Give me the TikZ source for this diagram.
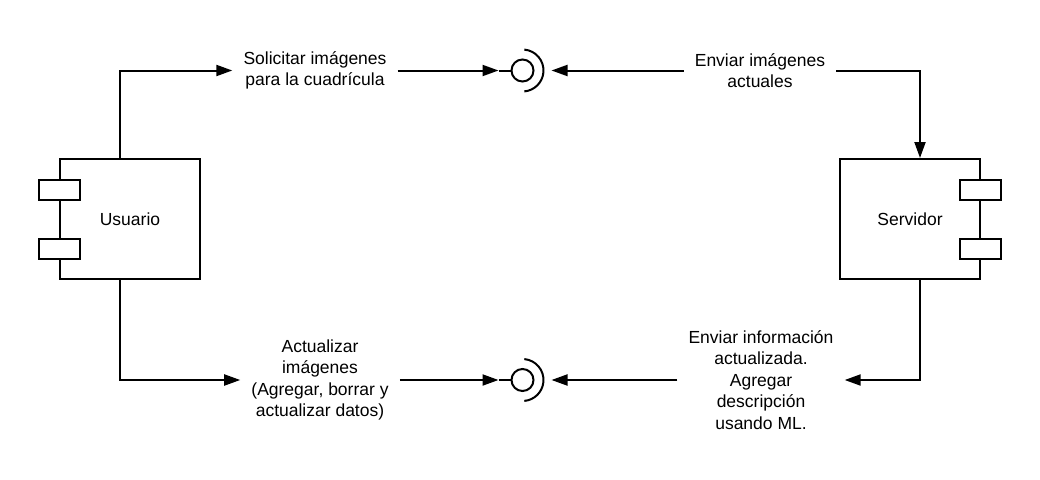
\documentclass[tikz,border=0pt]{standalone}
\usepackage{fontspec}
\setmainfont{Liberation Sans}
\usetikzlibrary{positioning,arrows.meta}
\tikzset{
  comp/.style={draw,line width=2pt,minimum width=140pt,minimum height=120pt,inner sep=0pt,font=\fontsize{17.5}{21.5}\selectfont},
  port/.style={draw,fill=white,line width=2pt,minimum width=41pt,minimum height=20pt,inner sep=0pt},
  ball/.style={circle,draw,line width=2pt,minimum size=22pt,inner sep=0pt},
  conn/.style={line width=2pt},
  aconn/.style={line width=2pt,-{Triangle[length=16pt,width=11pt]}},
  elab/.style={align=center,inner xsep=11pt,inner ysep=0pt,font=\fontsize{17.5}{21.5}\selectfont}
}
\begin{document}
\begin{tikzpicture}[x=1pt,y=-1pt]
      \useasboundingbox (0,0) rectangle (1040,479);
      \node[comp] (usr) at (130,219) {Usuario};
      \node[port] (usrp1) at (59.5,190) {}; \node[port] (usrp2) at (59.5,249) {};
      \node[comp] (srv) at (910,219) {Servidor};
      \node[port] (srvp1) at (980,190) {}; \node[port] (srvp2) at (980,249) {};
      % interfaces
      \node[ball] (ifq) at (522.5,70.5) {}; \draw[conn] ([shift={(-85:21)}]ifq.center) arc[start angle=-85,end angle=85,radius=21];
      \node[ball] (ifu) at (522.5,380) {}; \draw[conn] ([shift={(-85:21)}]ifu.center) arc[start angle=-85,end angle=85,radius=21];
      \draw[conn] (ifq.west) -- ++(-12,0) coordinate (ifqin); \coordinate (ifqout) at (551.5,70.5);
      \draw[conn] (ifu.west) -- ++(-12,0) coordinate (ifuin); \coordinate (ifuout) at (551.5,380);
      % labels
      \node[elab] (lsol) at (315,70.5) {Solicitar imágenes\\para la cuadrícula};
      \node[elab] (lenv) at (760,70.5) {Enviar imágenes\\actuales};
      \node[elab] (lact) at (320,380) {Actualizar\\imágenes\\(Agregar, borrar y\\actualizar datos)};
      \node[elab] (linf) at (761,380) {Enviar información\\actualizada.\\Agregar\\descripción\\usando ML.};
      % connectors
      \draw[aconn] ([xshift=-10pt]usr.north) |- (lsol.west); \draw[aconn] (lsol.east) -- (ifqin);
      \draw[aconn] (lenv.west) -- (ifqout); \draw[aconn] (lenv.east) -| ([xshift=10pt]srv.north);
      \draw[aconn] ([xshift=-10pt]usr.south) |- (lact.west); \draw[aconn] (lact.east) -- (ifuin);
      \draw[aconn] ([xshift=10pt]srv.south) |- (linf.east); \draw[aconn] (linf.west) -- (ifuout);
    \end{tikzpicture}
\end{document}
